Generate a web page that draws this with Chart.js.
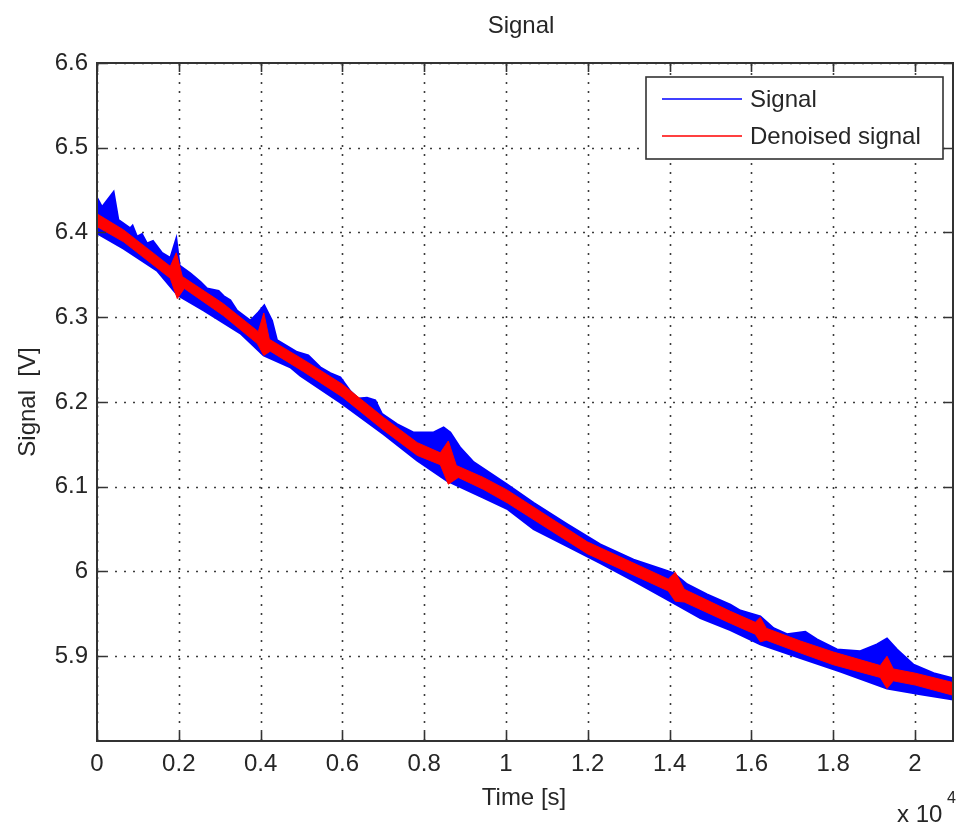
<!DOCTYPE html>
<html>
<head>
<meta charset="utf-8">
<script src="https://cdn.jsdelivr.net/npm/chart.js@4.4.0/dist/chart.umd.min.js"></script>
<style>
  html, body { margin: 0; padding: 0; background: #ffffff; }
  canvas { display: block; }
</style>
</head>
<body>
<canvas id="signalChart" width="960" height="824"></canvas>
<script>
// Axis ticks: time in seconds, voltage in volts
const xTicks = [0, 2000, 4000, 6000, 8000, 10000, 12000, 14000, 16000, 18000, 20000];
const yTicks = [5.9, 6.0, 6.1, 6.2, 6.3, 6.4, 6.5, 6.6];
const timeEnd = 20930;

// Raw signal: upper edge of the noise band
const signalUpperT = [0, 122, 406, 521, 814, 870, 978, 1100, 1223, 1369, 1589, 1792, 1939, 2020, 2281, 2526, 2690, 2973, 3095, 3259,
  3423, 3748, 3951, 4090, 4279, 4401, 4890, 5166, 5460, 5704, 5949, 6193, 6389, 6602, 6804, 6968, 7335, 7733, 8230, 8474,
  8638, 8883, 9208, 10024, 10675, 11492, 12306, 13120, 13854, 14098, 14426, 14915, 15485, 15729, 16218, 16543, 16871, 17318, 17604, 18093,
  18663, 19071, 19316, 19560, 19966, 20455, 20930];
const signalUpperV = [6.441, 6.430, 6.448, 6.415, 6.405, 6.408, 6.395, 6.398, 6.387, 6.390, 6.376, 6.370, 6.393, 6.361, 6.352, 6.342, 6.334, 6.331, 6.325, 6.320,
  6.308, 6.296, 6.306, 6.314, 6.296, 6.273, 6.259, 6.255, 6.241, 6.234, 6.229, 6.213, 6.204, 6.205, 6.202, 6.186, 6.174, 6.164, 6.164, 6.170,
  6.164, 6.146, 6.129, 6.103, 6.081, 6.056, 6.032, 6.014, 6.002, 5.998, 5.985, 5.973, 5.961, 5.954, 5.947, 5.933, 5.926, 5.929, 5.920, 5.908,
  5.906, 5.914, 5.921, 5.908, 5.890, 5.880, 5.874];

// Raw signal: lower edge of the noise band
const signalLowerT = [0, 650, 1467, 1971, 2606, 3504, 4073, 4726, 4971, 5990, 7007, 7824, 8558, 9453, 10024, 10675, 11492, 12306, 13120, 13937,
  14752, 15485, 16218, 17196, 18174, 19316, 20130, 20930];
const signalLowerV = [6.399, 6.381, 6.355, 6.326, 6.308, 6.281, 6.255, 6.241, 6.231, 6.198, 6.162, 6.131, 6.107, 6.087, 6.074, 6.050, 6.030, 6.010, 5.989, 5.967,
  5.945, 5.931, 5.914, 5.898, 5.882, 5.862, 5.855, 5.849];

// Denoised signal: upper and lower edges of the trace
const denoisedUpperT = [0, 650, 1792, 1939, 2086, 3088, 3944, 4078, 4213, 5044, 5998, 7000, 7832, 8394, 8590, 8786, 9445, 10032, 11988, 13968,
  14139, 14359, 15485, 16096, 16218, 16365, 17196, 18003, 19152, 19316, 19470, 20008, 20930];
const denoisedUpperV = [6.422, 6.403, 6.360, 6.376, 6.348, 6.316, 6.283, 6.305, 6.274, 6.250, 6.221, 6.182, 6.152, 6.140, 6.154, 6.125, 6.111, 6.096, 6.035, 5.991,
  5.999, 5.979, 5.953, 5.940, 5.946, 5.933, 5.918, 5.905, 5.889, 5.900, 5.885, 5.880, 5.869];
const denoisedLowerT = [0, 650, 1792, 1963, 2135, 3088, 3919, 4078, 4237, 5044, 5998, 7000, 7832, 8394, 8590, 8835, 9445, 10032, 11988, 13968,
  14139, 14359, 15485, 16096, 16218, 16365, 17196, 18003, 19152, 19316, 19470, 20008, 20930];
const denoisedLowerV = [6.407, 6.389, 6.346, 6.322, 6.334, 6.302, 6.269, 6.255, 6.260, 6.236, 6.206, 6.167, 6.137, 6.126, 6.103, 6.111, 6.097, 6.081, 6.021, 5.977,
  5.965, 5.964, 5.939, 5.926, 5.917, 5.919, 5.904, 5.890, 5.875, 5.862, 5.871, 5.866, 5.854];

const SIGNAL_BLUE = '#0000ff';
const DENOISED_RED = '#ff0000';
const INK = '#262626';
const FONT_FAMILY = 'Arial, "Liberation Sans", Helvetica, sans-serif';

const toPoints = (ts, vs) => ts.map((t, i) => ({ x: t, y: vs[i] }));

// Grid, axes box with inward ticks, legend and text labels in classic plot style
const plotFrame = {
  id: 'plotFrame',
  beforeDatasetsDraw(chart) {
    const { ctx, chartArea: a, scales: { x, y } } = chart;
    ctx.save();
    ctx.strokeStyle = '#3c3c3c';
    ctx.lineWidth = 1.6;
    ctx.setLineDash([2, 7]);
    xTicks.forEach(v => {
      const px = Math.round(x.getPixelForValue(v)) + 0.5;
      ctx.beginPath(); ctx.moveTo(px, a.bottom); ctx.lineTo(px, a.top); ctx.stroke();
    });
    yTicks.forEach(v => {
      const py = Math.round(y.getPixelForValue(v)) + 0.5;
      ctx.beginPath(); ctx.moveTo(a.left, py); ctx.lineTo(a.right, py); ctx.stroke();
    });
    ctx.restore();
  },
  afterDatasetsDraw(chart) {
    const { ctx, chartArea: a, scales: { x, y } } = chart;
    ctx.save();
    ctx.strokeStyle = '#333333';
    ctx.lineWidth = 2;
    ctx.strokeRect(a.left, a.top, a.right - a.left, a.bottom - a.top);
    const tick = 9;
    ctx.lineWidth = 1.6;
    xTicks.forEach(v => {
      const px = Math.round(x.getPixelForValue(v)) + 0.5;
      ctx.beginPath();
      ctx.moveTo(px, a.bottom); ctx.lineTo(px, a.bottom - tick);
      ctx.moveTo(px, a.top); ctx.lineTo(px, a.top + tick);
      ctx.stroke();
    });
    yTicks.forEach(v => {
      const py = Math.round(y.getPixelForValue(v)) + 0.5;
      ctx.beginPath();
      ctx.moveTo(a.left, py); ctx.lineTo(a.left + tick, py);
      ctx.moveTo(a.right, py); ctx.lineTo(a.right - tick, py);
      ctx.stroke();
    });

    // Legend box in the upper right corner of the axes
    const entries = chart.data.datasets.filter(d => d.label);
    const boxRight = a.right - 10, boxTop = a.top + 14;
    const boxW = 297, boxH = 82;
    const boxLeft = boxRight - boxW;
    ctx.fillStyle = '#ffffff';
    ctx.fillRect(boxLeft, boxTop, boxW, boxH);
    ctx.strokeStyle = '#333333';
    ctx.lineWidth = 1.6;
    ctx.strokeRect(boxLeft, boxTop, boxW, boxH);
    ctx.font = '24px ' + FONT_FAMILY;
    ctx.textBaseline = 'middle';
    ctx.textAlign = 'left';
    entries.forEach((d, i) => {
      const rowY = boxTop + 22 + i * 37;
      ctx.strokeStyle = d.legendColor;
      ctx.lineWidth = 1.5;
      ctx.beginPath(); ctx.moveTo(boxLeft + 16, rowY); ctx.lineTo(boxLeft + 96, rowY); ctx.stroke();
      ctx.fillStyle = INK;
      ctx.fillText(d.label, boxLeft + 104, rowY + 1);
    });
    ctx.restore();
  },
  afterDraw(chart) {
    const { ctx, chartArea: a } = chart;
    ctx.save();
    ctx.fillStyle = INK;
    ctx.font = '24px ' + FONT_FAMILY;
    ctx.textAlign = 'center';
    ctx.textBaseline = 'alphabetic';
    ctx.fillText('Signal', 521, 33);
    ctx.fillText('Time [s]', 524, 805);
    ctx.save();
    ctx.translate(35, (a.top + a.bottom) / 2);
    ctx.rotate(-Math.PI / 2);
    ctx.fillText('Signal  [V]', 0, 0);
    ctx.restore();
    ctx.textAlign = 'left';
    ctx.fillText('x 10', 897, 822);
    ctx.font = '16px ' + FONT_FAMILY;
    ctx.fillText('4', 947, 803);
    ctx.restore();
  }
};

const ctx = document.getElementById('signalChart').getContext('2d');
new Chart(ctx, {
  type: 'line',
  data: {
    datasets: [
      { label: '', order: 2, data: toPoints(signalLowerT, signalLowerV), borderColor: SIGNAL_BLUE, borderWidth: 2, fill: false },
      { label: 'Signal', order: 2, legendColor: SIGNAL_BLUE, data: toPoints(signalUpperT, signalUpperV), borderColor: SIGNAL_BLUE, borderWidth: 2,
        backgroundColor: SIGNAL_BLUE, fill: '-1' },
      { label: '', order: 1, data: toPoints(denoisedLowerT, denoisedLowerV), borderColor: DENOISED_RED, borderWidth: 1, fill: false },
      { label: 'Denoised signal', order: 1, legendColor: DENOISED_RED, data: toPoints(denoisedUpperT, denoisedUpperV), borderColor: DENOISED_RED, borderWidth: 1,
        backgroundColor: DENOISED_RED, fill: '-1' }
    ]
  },
  options: {
    responsive: false,
    devicePixelRatio: 1,
    animation: false,
    elements: { point: { radius: 0, hoverRadius: 0 }, line: { tension: 0 } },
    layout: { padding: { left: 0, right: 7, top: 63, bottom: 0 } },
    plugins: { legend: { display: false }, title: { display: false }, tooltip: { enabled: false } },
    events: [],
    scales: {
      x: {
        type: 'linear',
        min: 0,
        max: timeEnd,
        grid: { display: false, drawTicks: false },
        border: { display: false },
        afterBuildTicks: s => { s.ticks = xTicks.map(v => ({ value: v })); },
        afterFit: s => { s.height = 83; },
        ticks: {
          autoSkip: false,
          maxRotation: 0,
          padding: 9,
          color: INK,
          font: { family: FONT_FAMILY, size: 24 },
          callback: v => String(Number((v / 10000).toFixed(1)))
        }
      },
      y: {
        type: 'linear',
        min: 5.8,
        max: 6.6,
        grid: { display: false, drawTicks: false },
        border: { display: false },
        afterBuildTicks: s => { s.ticks = yTicks.map(v => ({ value: v })); },
        afterFit: s => { s.width = 97; },
        ticks: {
          autoSkip: false,
          padding: 9,
          color: INK,
          font: { family: FONT_FAMILY, size: 24 },
          callback: v => String(Number(v.toFixed(1)))
        }
      }
    }
  },
  plugins: [plotFrame]
});
</script>
</body>
</html>
